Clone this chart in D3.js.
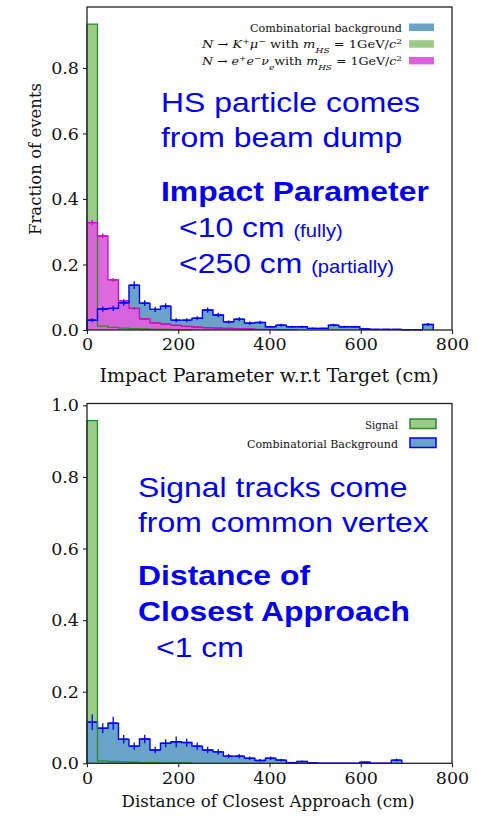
<!DOCTYPE html>
<html>
<head>
<meta charset="utf-8">
<script src="https://cdnjs.cloudflare.com/ajax/libs/d3/7.8.5/d3.min.js"></script>
<style>
  body { margin: 0; background: #fff; }
</style>
</head>
<body>
<div id="viz"></div>
<script>
// histogram bins are 23 cm wide in both panels
var binWidth = 23;
var xTicks = [0, 200, 400, 600, 800];
var yTicksTop = [0, 0.2, 0.4, 0.6, 0.8];
var yTicksBottom = [0, 0.2, 0.4, 0.6, 0.8, 1.0];

// top panel: impact parameter
var topBackground = [0.030, 0.064, 0.066, 0.083, 0.137, 0.082, 0.063, 0.073, 0.030, 0.030,
  0.036, 0.061, 0.046, 0.025, 0.033, 0.021, 0.023, 0.010, 0.015, 0.010,
  0.010, 0.005, 0.005, 0.015, 0.010, 0.010, 0.003, 0.002, 0.002, 0.002,
  0.001, 0.001, 0.017];
var topBackgroundErr = [0.006, 0.008, 0.008, 0.009, 0.012, 0.009, 0.008, 0.009, 0.006, 0.006,
  0.006, 0.008, 0.007, 0.005, 0.006, 0.005, 0.005, 0.003, 0.004, 0.003,
  0.003, 0.002, 0.002, 0.004, 0.003, 0.003, 0.002, 0.001, 0.001, 0.001,
  0.001, 0.001, 0.004];
var topKmu = [0.934, 0.012, 0.008, 0.006, 0.004, 0.003, 0.002, 0.002, 0.001, 0.001];
var topEENu = [0.328, 0.287, 0.153, 0.089, 0.066, 0.034, 0.022, 0.018, 0.014, 0.011,
  0.009, 0.007, 0.006, 0.005, 0.004, 0.003, 0.002, 0.002, 0.001, 0.001];
var topEENuErr = [0.008, 0.008, 0.006, 0.005, 0.004, 0.003, 0.002, 0.002, 0.002, 0.001,
  0.001, 0.001, 0.001, 0.001, 0.001, 0.001, 0, 0, 0, 0];

// bottom panel: distance of closest approach
var bottomSignal = [0.957, 0.007, 0.005, 0.004, 0.003, 0.002, 0.002, 0.001, 0.001, 0.001];
var bottomBackground = [0.115, 0.098, 0.112, 0.067, 0.048, 0.068, 0.037, 0.056, 0.060, 0.058,
  0.048, 0.037, 0.032, 0.020, 0.020, 0.014, 0.008, 0.014, 0.009, 0.002,
  0.005, 0.001, 0, 0, 0, 0, 0.003, 0, 0, 0.009];
var bottomBackgroundErr = [0.022, 0.014, 0.018, 0.012, 0.010, 0.012, 0.009, 0.011, 0.015, 0.011,
  0.010, 0.009, 0.008, 0.006, 0.006, 0.005, 0.004, 0.005, 0.004, 0.002,
  0.003, 0.001, 0, 0, 0, 0, 0.002, 0, 0, 0.004];

var blueFill = "#6aa3c8", blueEdge = "#0000ff";
var greenFill = "#9ccb88", greenEdge = "#2a8a2a";
var pinkFill = "#dc60da", pinkEdge = "#c010c0";
var serif = "'DejaVu Serif', serif";

var svg = d3.select("#viz").append("svg")
  .attr("width", 477).attr("height", 816);

function stepPts(vals) {
  var pts = [[0, 0]];
  vals.forEach(function(v, i) {
    pts.push([i * binWidth, v]);
    pts.push([(i + 1) * binWidth, v]);
  });
  pts.push([vals.length * binWidth, 0]);
  return pts;
}

function drawFill(g, x, y, vals, col, op) {
  g.append("path").datum(stepPts(vals))
    .attr("d", d3.area().x(function(d){return x(d[0]);}).y0(y(0)).y1(function(d){return y(d[1]);}))
    .attr("fill", col).attr("fill-opacity", op);
}
function drawEdge(g, x, y, vals, col, w) {
  g.append("path").datum(stepPts(vals))
    .attr("d", d3.line().x(function(d){return x(d[0]);}).y(function(d){return y(d[1]);}))
    .attr("fill", "none").attr("stroke", col).attr("stroke-width", w);
}
function drawErr(g, x, y, vals, errs, col) {
  vals.forEach(function(v, i) {
    if (!errs[i]) return;
    var cx = x((i + 0.5) * binWidth);
    g.append("line").attr("x1", cx).attr("x2", cx)
      .attr("y1", y(v - errs[i])).attr("y2", y(v + errs[i]))
      .attr("stroke", col).attr("stroke-width", 1.3);
    g.append("line").attr("x1", x((i + 0.1) * binWidth)).attr("x2", x((i + 0.9) * binWidth))
      .attr("y1", y(v)).attr("y2", y(v))
      .attr("stroke", col).attr("stroke-width", 1.3);
  });
}

function drawAxes(x, y, yTicks, top, bottom) {
  var gx = svg.append("g").attr("transform", "translate(0," + y(0) + ")")
    .call(d3.axisBottom(x).tickValues(xTicks).tickSize(4).tickPadding(4).tickFormat(d3.format("d")));
  var gy = svg.append("g").attr("transform", "translate(" + x(0) + ",0)")
    .call(d3.axisLeft(y).tickValues(yTicks).tickSize(4).tickPadding(4).tickFormat(d3.format(".1f")));
  [gx, gy].forEach(function(g) {
    g.select(".domain").remove();
    g.selectAll("text").attr("font-family", serif).attr("font-size", 17.5).attr("fill", "#111");
    g.selectAll("line").attr("stroke", "#222").attr("stroke-width", 1.1);
  });
  svg.append("rect").attr("x", x(0)).attr("y", top)
    .attr("width", x(800) - x(0)).attr("height", bottom - top)
    .attr("fill", "none").attr("stroke", "#222").attr("stroke-width", 1.3);
}

// ---------- top panel ----------
var x1 = d3.scaleLinear().domain([0, 800]).range([87, 452]);
var y1 = d3.scaleLinear().domain([0, 0.986]).range([330, 7]);
var p1 = svg.append("g");
drawFill(p1, x1, y1, topBackground, blueFill, 1);
drawFill(p1, x1, y1, topKmu, greenFill, 1);
drawFill(p1, x1, y1, topEENu, pinkFill, 0.95);
drawEdge(p1, x1, y1, topKmu, greenEdge, 1.3);
drawEdge(p1, x1, y1, topEENu, pinkEdge, 1.3);
drawEdge(p1, x1, y1, topBackground, blueEdge, 1.4);
drawErr(p1, x1, y1, topEENu, topEENuErr, pinkEdge);
drawErr(p1, x1, y1, topBackground, topBackgroundErr, blueEdge);
drawAxes(x1, y1, yTicksTop, 7, 330);

svg.append("text").attr("x", 269).attr("y", 382).attr("text-anchor", "middle")
  .attr("font-family", serif).attr("font-size", 19).attr("fill", "#111")
  .text("Impact Parameter w.r.t Target (cm)");
svg.append("text").attr("transform", "translate(41,159) rotate(-90)").attr("text-anchor", "middle")
  .attr("font-family", serif).attr("font-size", 16.5).attr("fill", "#111")
  .text("Fraction of events");

// legend top
function mathText(xr, yb, parts, fs, len) {
  var t = svg.append("text").attr("x", xr).attr("y", yb).attr("text-anchor", "end")
    .attr("font-family", serif).attr("font-size", fs).attr("fill", "#111")
    .attr("textLength", len).attr("lengthAdjust", "spacingAndGlyphs");
  parts.forEach(function(p) {
    var s = t.append("tspan").text(p[0]);
    if (p[1] === "i") s.attr("font-style", "italic");
    if (p[1] === "sup") s.attr("baseline-shift", "super").attr("font-size", fs * 0.7);
    if (p[1] === "sub") s.attr("baseline-shift", "sub").attr("font-size", fs * 0.7).attr("font-style", "italic");
  });
}
var legTop = [
  {parts: [["Combinatorial background"]], fill: blueFill, len: 152},
  {parts: [["N", "i"], [" \u2192 "], ["K", "i"], ["+", "sup"], ["\u03bc", "i"], ["\u2212", "sup"], [" with "], ["m", "i"], ["HS", "sub"], [" = 1GeV/"], ["c", "i"], ["2", "sup"]], fill: greenFill, len: 200},
  {parts: [["N", "i"], [" \u2192 "], ["e", "i"], ["+", "sup"], ["e", "i"], ["\u2212", "sup"], ["\u03bd", "i"], ["e", "sub"], ["with "], ["m", "i"], ["HS", "sub"], [" = 1GeV/"], ["c", "i"], ["2", "sup"]], fill: pinkFill, len: 200}
];
legTop.forEach(function(d, i) {
  var yb = 31.5 + i * 16.7;
  mathText(402, yb, d.parts, 11.5, d.len);
  svg.append("rect").attr("x", 409).attr("y", yb - 8).attr("width", 25).attr("height", 7.5)
    .attr("fill", d.fill);
});

// ---------- bottom panel ----------
var x2 = d3.scaleLinear().domain([0, 800]).range([87, 452]);
var y2 = d3.scaleLinear().domain([0, 1.005]).range([763.3, 403.5]);
var p2 = svg.append("g");
drawFill(p2, x2, y2, bottomSignal, greenFill, 1);
drawFill(p2, x2, y2, bottomBackground, blueFill, 1);
drawEdge(p2, x2, y2, bottomBackground, blueEdge, 1.4);
drawEdge(p2, x2, y2, bottomSignal, greenEdge, 1.3);
drawErr(p2, x2, y2, bottomBackground, bottomBackgroundErr, blueEdge);
drawAxes(x2, y2, yTicksBottom, 403.5, 763.3);

svg.append("text").attr("x", 268).attr("y", 807).attr("text-anchor", "middle")
  .attr("font-family", serif).attr("font-size", 16.7).attr("fill", "#111")
  .text("Distance of Closest Approach (cm)");

var legBottom = [
  {label: "Signal", fill: greenFill, edge: greenEdge, len: 33},
  {label: "Combinatorial Background", fill: blueFill, edge: blueEdge, len: 151}
];
legBottom.forEach(function(d, i) {
  var yb = 429 + i * 19;
  svg.append("text").attr("x", 398).attr("y", yb).attr("text-anchor", "end")
    .attr("font-family", serif).attr("font-size", 11.5).attr("fill", "#111")
    .attr("textLength", d.len).attr("lengthAdjust", "spacingAndGlyphs").text(d.label);
  svg.append("rect").attr("x", 410).attr("y", yb - 10).attr("width", 26).attr("height", 9.5)
    .attr("fill", d.fill).attr("stroke", d.edge).attr("stroke-width", 1.5);
});

// ---------- blue annotations ----------
var notes = [
  {x: 161, y: 112, t: "HS particle comes", b: false},
  {x: 161, y: 147, t: "from beam dump", b: false},
  {x: 161, y: 201, t: "Impact Parameter", b: true},
  {x: 138, y: 497, t: "Signal tracks come", b: false},
  {x: 138, y: 532, t: "from common vertex", b: false},
  {x: 138, y: 585, t: "Distance of", b: true},
  {x: 138, y: 621, t: "Closest Approach", b: true},
  {x: 156, y: 657, t: "<1 cm", b: false}
];
function note(x, y, parts) {
  var t = svg.append("text").attr("transform", "translate(" + x + "," + y + ") scale(1.12,1)")
    .attr("font-family", "'Liberation Sans', Arial, sans-serif").attr("fill", "#0000f0");
  parts.forEach(function(p) {
    t.append("tspan").text(p[0]).attr("font-size", p[1]).attr("font-weight", p[2] ? "bold" : "normal");
  });
}
notes.forEach(function(d) { note(d.x, d.y, [[d.t, 28.5, d.b]]); });
note(179, 237, [["<10 cm ", 28.5], ["(fully)", 18]]);
note(179, 273, [["<250 cm ", 28.5], ["(partially)", 18]]);
</script>
</body>
</html>
